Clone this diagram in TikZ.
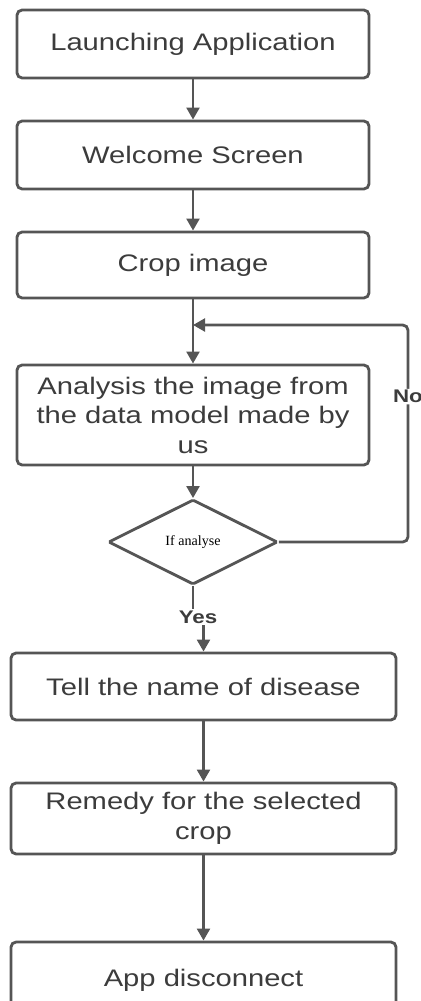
\documentclass[tikz,border=0pt]{standalone}
\usepackage{fontspec}
\setmainfont{Liberation Sans}[FakeStretch=1.22]
\newfontfamily\seriffont{Liberation Serif}
\usetikzlibrary{shapes.geometric,arrows.meta}
\definecolor{linegray}{HTML}{555555}
\definecolor{textgray}{HTML}{3C3C3C}
\begin{document}
\begin{tikzpicture}[x=0.025cm, y=-0.025cm,
  box/.style={draw=linegray, line width=2pt, rounded corners=0.13cm, fill=white, text=textgray, align=center, minimum width=8.8cm, minimum height=1.7cm, inner sep=0pt, font=\fontsize{17}{21}\selectfont},
  wbox/.style={box, minimum width=9.625cm},
  arr/.style={draw=linegray, line width=2pt, -{Triangle[length=0.3cm,width=0.32cm]}},
  lbl/.style={fill=white, text=textgray, inner sep=1pt, font=\fontsize{13}{15}\selectfont\bfseries}]
\clip (0,0) rectangle (421,1001);
\node[box] (b1) at (193,44){Launching Application};
\node[box] (b2) at (193,155){Welcome Screen};
\node[box, minimum height=1.65cm] (b3) at (193,265){Crop image};
\node[box, minimum height=2.5cm] (b4) at (193,415){Analysis the image from\\the data model made by\\us};
\node[diamond, draw=linegray, line width=2pt, rounded corners=1pt, minimum width=4.225cm, minimum height=2.125cm, inner sep=0pt, font=\seriffont\fontsize{10}{12}\selectfont] (dia) at (193,542){If analyse};
\node[lbl] (yes) at (198,617){Yes};
\node[wbox, minimum height=1.675cm] (b5) at (203.5,686.5){Tell the name of disease};
\node[wbox, minimum height=1.775cm] (b6) at (203.5,818.5){Remedy for the selected\\crop};
\node[wbox, minimum height=1.9cm] (b7) at (203.5,980){App disconnect};
\coordinate (loop) at (408,325);
\draw[arr] (b1) -- (b2);
\draw[arr] (b2) -- (b3);
\draw[arr] (b3) -- (b4);
\draw[arr] (b4) -- (dia);
\draw[arr, rounded corners=0.13cm] (dia.east) -- (dia.east -| loop) -- node[lbl, pos=0.67]{No} (loop) -- (b3.south |- loop);
\draw[draw=linegray, line width=2pt] (dia.south) -- (dia.south |- yes.north);
\draw[arr] (yes.south -| b5.north) -- (b5.north);
\draw[arr] (b5) -- (b6);
\draw[arr] (b6) -- (b7);
\end{tikzpicture}
\end{document}
